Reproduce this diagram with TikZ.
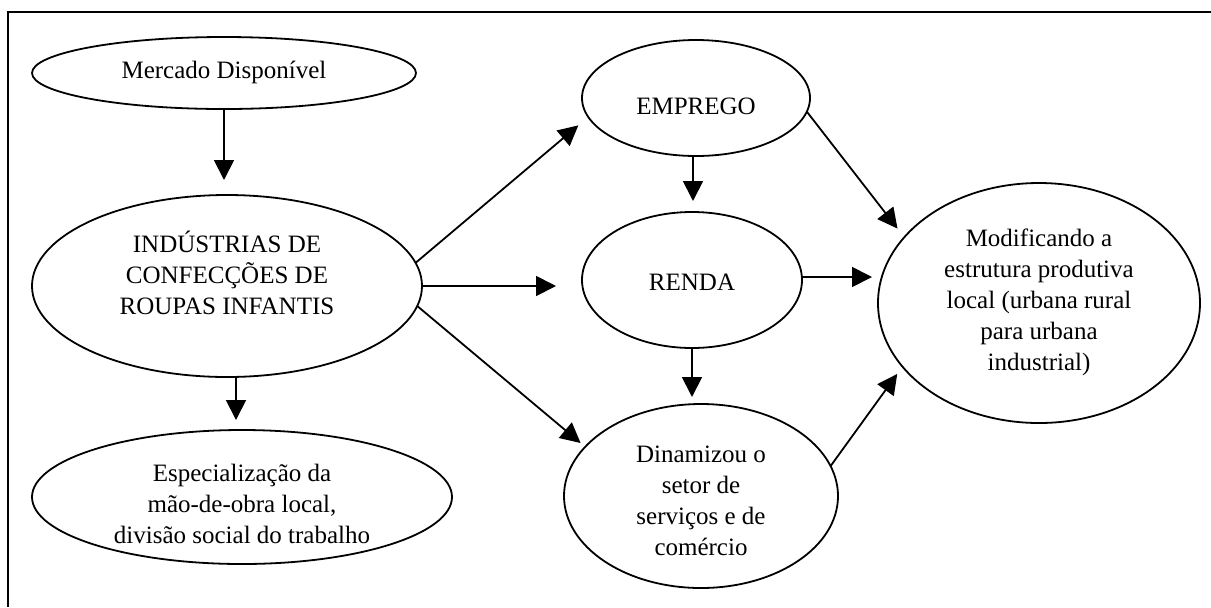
\documentclass[tikz,border=0pt]{standalone}
\usepackage{fontspec}
\setmainfont{Liberation Serif}
\usetikzlibrary{shapes.geometric,arrows.meta}
\newcommand\etext[2]{\raisebox{\dimexpr #1-3.6pt\relax}[0pt][0pt]{\begin{tabular}{@{}c@{}}#2\end{tabular}}}
\tikzset{
  ell/.style={ellipse, draw, line width=0.9pt, inner sep=0pt, outer sep=0pt,
    font=\fontsize{12.5}{15.5}\selectfont},
  arr/.style={draw, line width=0.9pt, -{Triangle[length=10pt,width=10pt]}},
  frameline/.style={line width=1.2pt}
}
\begin{document}
\begin{tikzpicture}[x=0.5pt,y=-0.5pt]
\useasboundingbox (0,0) rectangle (1211,607);
\draw[frameline] (1211,12) -- (8,12) -- (8,607);

\node[ell, minimum width=192pt, minimum height=36pt] (merc) at (224,73) {\etext{1pt}{Mercado Disponível}};
\node[ell, minimum width=195pt, minimum height=91pt] (ind) at (227,286) {\etext{5pt}{INDÚSTRIAS DE\\CONFECÇÕES DE\\ROUPAS INFANTIS}};
\node[ell, minimum width=210pt, minimum height=67pt] (esp) at (242,497) {\etext{-4pt}{Especialização da\\mão-de-obra local,\\divisão social do trabalho}};
\node[ell, minimum width=114pt, minimum height=58pt] (emp) at (696,98) {\etext{-4.3pt}{EMPREGO}};
\node[ell, minimum width=110pt, minimum height=68pt] (ren) at (692,280) {\etext{-1.5pt}{RENDA}};
\node[ell, minimum width=137pt, minimum height=92pt] (din) at (701,496) {\etext{-3pt}{Dinamizou o\\setor de\\serviços e de\\comércio}};
\node[ell, minimum width=161pt, minimum height=120pt] (mod) at (1039,303) {\etext{1pt}{Modificando a\\estrutura produtiva\\local (urbana rural\\para urbana\\industrial)}};

\draw[arr, shorten >=7.5pt] (merc.south) -- (merc.south |- ind.north);
\draw[arr, shorten >=5pt] ([xshift=4.5pt]ind.south) -- ([xshift=4.5pt]ind.south |- esp.north);
\draw[arr, shorten >=6.5pt] (ind.7) -- (emp.190);
\draw[arr, shorten >=13pt] (ind.east) -- (ind.east -| ren.west);
\draw[arr, shorten >=3pt] (ind.-6) -- (din.157);
\draw[arr, shorten >=5.5pt] ([xshift=-1.5pt]emp.south) -- ([xshift=-1.5pt]emp.south |- ren.north);
\draw[arr, shorten >=5.5pt] (emp.-7) -- (mod.154);
\draw[arr, shorten >=3pt] ([yshift=1.5pt]ren.east) -- ([yshift=1.5pt]ren.east -| mod.west);
\draw[arr, shorten >=3.5pt] (ren.south) -- (ren.south |- din.north);
\draw[arr, shorten >=4.5pt] (din.13) -- (mod.205);
\end{tikzpicture}
\end{document}
